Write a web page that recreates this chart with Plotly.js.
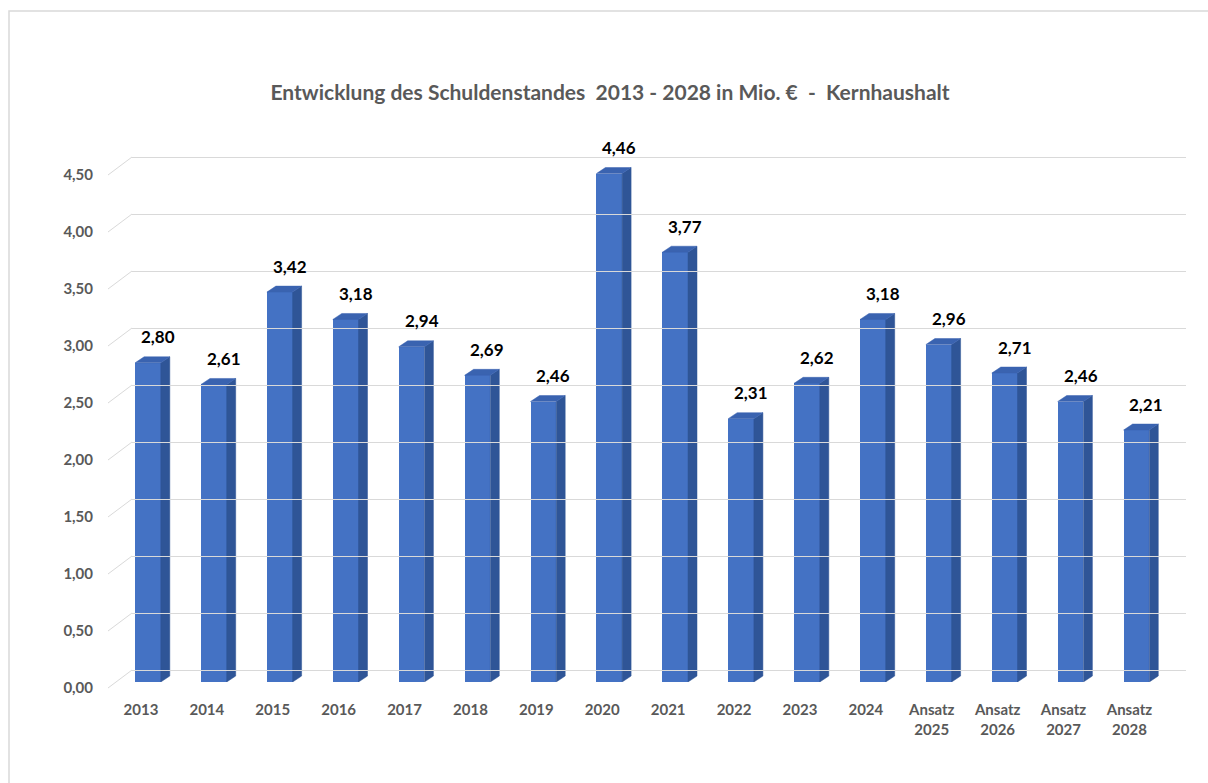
<!DOCTYPE html>
<html>
<head>
<meta charset="utf-8">
<script src="https://cdn.plot.ly/plotly-3.0.1.min.js"></script>
<style>html,body{margin:0;padding:0;background:#fff;}#chart{width:1208px;height:783px;}</style>
</head>
<body>
<div id="chart"></div>
<script>
// ---- data ----
const categories = ['2013','2014','2015','2016','2017','2018','2019','2020','2021','2022','2023','2024','Ansatz<br>2025','Ansatz<br>2026','Ansatz<br>2027','Ansatz<br>2028'];
const values = [2.80, 2.61, 3.42, 3.18, 2.94, 2.69, 2.46, 4.46, 3.77, 2.31, 2.62, 3.18, 2.96, 2.71, 2.46, 2.21];
const yTicks = [0, 0.5, 1.0, 1.5, 2.0, 2.5, 3.0, 3.5, 4.0, 4.5];
const titleText = 'Entwicklung des Schuldenstandes  2013 - 2028 in Mio. €  -  Kernhaushalt';

// ---- layout geometry (pixels) ----
const W = 1208, H = 783;
const n = categories.length;
const xLeft = 115, step = 65.9;            // bar plane
const xRight = xLeft + n * step;
const y0 = 682, pxPerUnit = 114, yMax = 4.6;
const backShift = [17, -12];               // back wall offset
const frontShift = [-7, 6];                // front plane offset
const barWidth = 0.39;
const depthX = 9 / step, depthY = 6 / pxPerUnit;

function xdom(shift){ return [(xLeft+shift)/W, (xRight+shift)/W]; }
function ydom(shift){ const b = y0 + shift; return [(H-b)/H, (H-(b - yMax*pxPerUnit))/H]; }

const idx = categories.map((c,i)=>i);
const fmt = v => v.toFixed(2).replace('.', ',');

// side & top faces of 3D bars
const sideX = [], sideY = [], topX = [], topY = [];
values.forEach((v,i)=>{
  const xl = i - barWidth/2, xr = i + barWidth/2;
  sideX.push(xr, xr, xr+depthX, xr+depthX, xr, null);
  sideY.push(0, v, v+depthY, depthY, 0, null);
  topX.push(xl, xr, xr+depthX, xl+depthX, xl, null);
  topY.push(v, v, v+depthY, v+depthY, v, null);
});

const traces = [
  {type:'scatter', x:[0], y:[0], xaxis:'x2', yaxis:'y2', mode:'markers', marker:{opacity:0}, hoverinfo:'skip', showlegend:false},
  {type:'scatter', x:[0], y:[0], xaxis:'x3', yaxis:'y3', mode:'markers', marker:{opacity:0}, hoverinfo:'skip', showlegend:false},
  {type:'bar', x:idx, y:values, width:barWidth, marker:{color:'#4472C4', line:{width:0}}, hoverinfo:'skip', showlegend:false},
  {type:'scatter', x:sideX, y:sideY, mode:'lines', fill:'toself', fillcolor:'#2F5597', line:{color:'#2F5597', width:0.5}, hoverinfo:'skip', showlegend:false},
  {type:'scatter', x:topX, y:topY, mode:'lines', fill:'toself', fillcolor:'#3A63B0', line:{color:'#3A63B0', width:0.5}, hoverinfo:'skip', showlegend:false}
];

const gridColor = '#D9D9D9';
const tickFont = {family:'Lato, "Open Sans", sans-serif', size:15, color:'#595959', weight:'bold'};

const shapes = [];
yTicks.forEach(v=>{
  const yf = y0 + frontShift[1] - v*pxPerUnit;
  const yb = y0 + backShift[1] - v*pxPerUnit;
  shapes.push({type:'line', xref:'paper', yref:'paper', layer:'below',
    x0:(xLeft+frontShift[0])/W, y0:(H-yf)/H, x1:(xLeft+backShift[0])/W, y1:(H-yb)/H,
    line:{color:gridColor, width:1}});
});
shapes.push({type:'rect', xref:'paper', yref:'paper', x0:9/W, y0:(H-790)/H, x1:1215/W, y1:(H-11)/H,
  line:{color:'#D9D9D9', width:1.5}, layer:'below'});

const annotations = values.map((v,i)=>({
  x:i, y:v, xref:'x', yref:'y', text:fmt(v), showarrow:false,
  xshift:10, yshift:26, yanchor:'middle',
  font:{family:'Lato, "Open Sans", sans-serif', size:17, color:'#000000', weight:'bold'}
}));

const layout = {
  width:W, height:H,
  margin:{l:0, r:0, t:0, b:0},
  paper_bgcolor:'#FFFFFF', plot_bgcolor:'rgba(0,0,0,0)',
  title:{text:titleText, x:0.505, xref:'paper', y:1-93/H, yref:'paper', xanchor:'center', yanchor:'middle',
    font:{family:'Lato, "Open Sans", sans-serif', size:21, color:'#595959', weight:'bold'}},
  xaxis:{domain:xdom(0), range:[-0.5, n-0.5], showgrid:false, zeroline:false, showticklabels:false, showline:false, fixedrange:true},
  yaxis:{domain:ydom(0), range:[0, yMax], showgrid:false, zeroline:false, showticklabels:false, showline:false, fixedrange:true},
  xaxis2:{domain:xdom(backShift[0]), anchor:'y2', range:[-0.5, n-0.5], showgrid:false, zeroline:false, showticklabels:false, showline:false},
  yaxis2:{domain:ydom(backShift[1]), anchor:'x2', range:[0, yMax], tickvals:yTicks, showgrid:true, gridcolor:gridColor, gridwidth:1,
    zeroline:true, zerolinecolor:gridColor, zerolinewidth:1, showticklabels:false, showline:false},
  xaxis3:{domain:xdom(frontShift[0]), anchor:'y3', range:[-0.5, n-0.5], tickvals:idx, ticktext:categories,
    showgrid:false, zeroline:false, showline:false, ticks:'', ticklabelstandoff:11, tickfont:tickFont, tickangle:0},
  yaxis3:{domain:ydom(frontShift[1]), anchor:'x3', range:[0, yMax], tickvals:yTicks, ticktext:yTicks.map(fmt),
    showgrid:false, zeroline:false, showline:false, ticks:'', ticklabelstandoff:14, tickfont:tickFont},
  shapes:shapes,
  annotations:annotations,
  bargap:0
};

Plotly.newPlot('chart', traces, layout, {displayModeBar:false, staticPlot:true});
</script>
</body>
</html>
